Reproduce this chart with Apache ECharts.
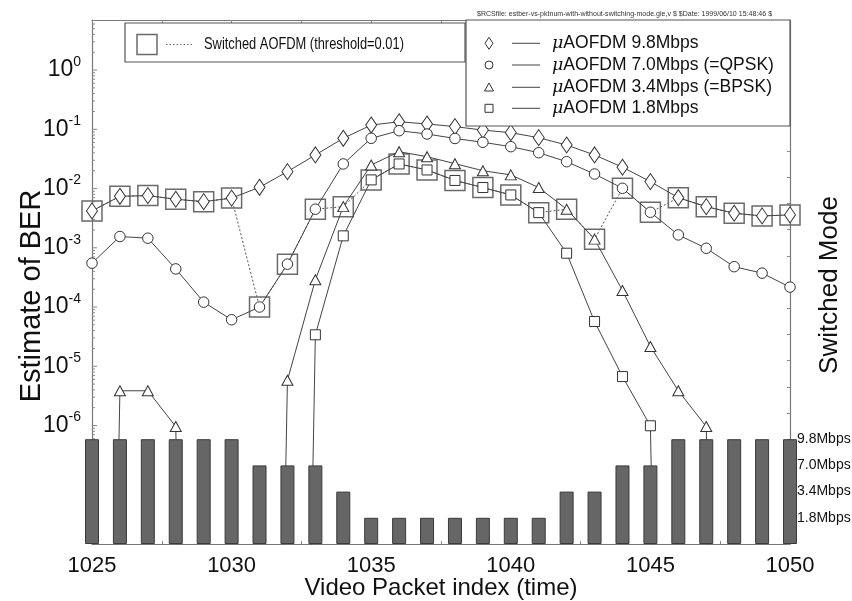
<!DOCTYPE html>
<html>
<head>
<meta charset="utf-8">
<script src="https://cdn.jsdelivr.net/npm/echarts@6/dist/echarts.min.js"></script>
<style>
  html, body { margin: 0; padding: 0; background: #fff; }
  #chart { width: 852px; height: 601px; }
</style>
</head>
<body>
<div id="chart"></div>
<script>
// Video packet index (time axis)
const packets = [1025, 1026, 1027, 1028, 1029, 1030, 1031, 1032, 1033, 1034, 1035, 1036, 1037,
                 1038, 1039, 1040, 1041, 1042, 1043, 1044, 1045, 1046, 1047, 1048, 1049, 1050];

// Estimated BER per fixed-mode modem (0 = no bit errors observed for that packet)
const ber98 = [4.19e-3, 7.4e-3, 7.6e-3, 6.6e-3, 6.0e-3, 6.9e-3, 1.05e-2, 1.93e-2, 3.69e-2, 7.05e-2,
               0.118, 0.134, 0.123, 0.111, 0.097, 0.0877, 0.0722, 0.0543, 0.0369, 0.0229,
               0.0131, 7.0e-3, 4.95e-3, 3.83e-3, 3.45e-3, 3.59e-3];
const ber70 = [5.5e-4, 1.55e-3, 1.45e-3, 4.4e-4, 1.21e-4, 6.1e-5, 1.0e-4, 5.3e-4, 4.48e-3, 0.026,
               0.0705, 0.0947, 0.0833, 0.070, 0.0604, 0.0509, 0.0403, 0.0284, 0.0176, 0.0101,
               3.98e-3, 1.65e-3, 9.8e-4, 4.8e-4, 3.73e-4, 2.17e-4];
const ber34 = [0, 3.86e-6, 3.86e-6, 9.6e-7, 0, 0, 0, 5.8e-6, 2.88e-4, 4.95e-3,
               0.025, 0.0419, 0.0345, 0.0263, 0.020, 0.0170, 0.0104, 4.48e-3, 1.40e-3, 1.90e-4,
               2.16e-5, 3.86e-6, 9.6e-7, 0, 0, 0];
const ber18 = [0, 0, 0, 0, 0, 0, 0, 0, 3.4e-5, 1.59e-3,
               0.014, 0.026, 0.0206, 0.0137, 0.0104, 7.8e-3, 3.92e-3, 8.1e-4, 5.7e-5, 6.7e-6,
               9.9e-7, 0, 0, 0, 0, 0];

// Mode chosen by the switching scheme per packet (1 = 1.8, 2 = 3.4, 3 = 7.0, 4 = 9.8 Mbps)
const switchedMode = [4, 4, 4, 4, 4, 4, 3, 3, 3, 2, 1, 1, 1, 1, 1, 1, 1, 2, 2, 3, 3, 4, 4, 4, 4, 4];

// Labels of the right-hand axis
const modeLabels = ['1.8Mbps', '3.4Mbps', '7.0Mbps', '9.8Mbps'];

// Log axis range
const berMin = 1e-8;
const berMax = 7;
// Zero-error packets sit far below the visible range on the log axis
const zeroFloor = 1e-30;

const FONT = "'Liberation Sans', Arial, Helvetica, sans-serif";
const ink = '#111';
const frame = '#777';

const toLog = v => (v > 0 ? v : zeroFloor);
const pairs = arr => packets.map((p, i) => [p, toLog(arr[i])]);

const berByMode = { 1: ber18, 2: ber34, 3: ber70, 4: ber98 };
const switchedBer = packets.map((p, i) => [p, berByMode[switchedMode[i]][i]]);
const modeBars = packets.map((p, i) => [p, switchedMode[i]]);

// Log-axis tick marks (decades plus 2..9 sub-divisions)
const logTicks = [];
for (let e = -8; e <= 0; e++) {
  for (let m = 1; m <= 9; m++) {
    const v = m * Math.pow(10, e);
    if (v <= berMax) logTicks.push([packets[0], v, m === 1 ? 1 : 0]);
  }
}

const markerStyle = { color: '#fff', borderColor: '#333', borderWidth: 1 };
const lineStyle = { color: '#444', width: 1 };

function berSeries(name, arr, symbol, size) {
  return {
    name, type: 'line', xAxisIndex: 0, yAxisIndex: 0,
    data: pairs(arr), symbol, symbolSize: size, showSymbol: true,
    lineStyle, itemStyle: markerStyle, clip: true, z: 3,
    emphasis: { disabled: true }, silent: true
  };
}

const chart = echarts.init(document.getElementById('chart'), null, { renderer: 'canvas' });

const legendRows = [
  { y: 43.3, text: '9.8Mbps' },
  { y: 65, text: '7.0Mbps (=QPSK)' },
  { y: 87.3, text: '3.4Mbps (=BPSK)' },
  { y: 108.3, text: '1.8Mbps' }
];
const lx = 489;
const legendGlyphs = [
  { type: 'polygon', shape: { points: [[lx, 37.3], [lx + 4, 43.3], [lx, 49.3], [lx - 4, 43.3]] } },
  { type: 'circle', shape: { cx: lx, cy: 65, r: 4 } },
  { type: 'polygon', shape: { points: [[lx, 83], [lx + 4.5, 91], [lx - 4.5, 91]] } },
  { type: 'rect', shape: { x: lx - 4, y: 104.3, width: 8, height: 8 } }
];

const graphics = [
  // header stamp
  { type: 'text', x: 477, y: 14, z: 50, scaleX: 0.94,
    style: { text: '$RCSfile: estber-vs-pktnum-with-without-switching-mode.gle,v $ $Date: 1999/06/10 15:48:46 $',
             fontSize: 7.5, fontFamily: FONT, fill: '#333', verticalAlign: 'middle' } },
  // switched-mode legend
  { type: 'rect', z: 50, shape: { x: 125, y: 23, width: 340, height: 39 },
    style: { fill: '#fff', stroke: '#555', lineWidth: 1.2 } },
  { type: 'rect', z: 51, shape: { x: 137, y: 34.5, width: 20, height: 20 },
    style: { fill: 'none', stroke: '#6a6a6a', lineWidth: 1.5 } },
  { type: 'line', z: 51, shape: { x1: 166, y1: 44.5, x2: 193, y2: 44.5 },
    style: { stroke: '#666', lineWidth: 1, lineDash: [1.5, 2] } },
  { type: 'text', z: 51, x: 204, y: 44.5, scaleX: 0.78,
    style: { text: 'Switched AOFDM (threshold=0.01)', fontSize: 16.5, fontFamily: FONT, fill: ink,
             verticalAlign: 'middle' } },
  // fixed-mode legend
  { type: 'rect', z: 50, shape: { x: 466, y: 20, width: 324, height: 106 },
    style: { fill: '#fff', stroke: '#555', lineWidth: 1.2 } }
];
legendGlyphs.forEach(g => graphics.push(Object.assign({ z: 51, style: { fill: '#fff', stroke: '#333', lineWidth: 1 } }, g)));
legendRows.forEach(r => {
  graphics.push({ type: 'line', z: 51, shape: { x1: 512, y1: r.y, x2: 540, y2: r.y },
                  style: { stroke: '#444', lineWidth: 1 } });
  graphics.push({ type: 'text', z: 51, x: 552, y: r.y,
                  style: { text: '{mu|μ}AOFDM ' + r.text, fontSize: 17.5, fontFamily: FONT, fill: ink,
                           verticalAlign: 'middle',
                           rich: { mu: { fontStyle: 'italic', fontFamily: "'DejaVu Serif', 'Liberation Serif', serif",
                                         fontSize: 17.5, fill: ink } } } });
});

const option = {
  backgroundColor: '#fff',
  animation: false,
  grid: { left: 92, top: 20, width: 698, height: 524, show: false, containLabel: false, outerBoundsMode: 'none' },
  xAxis: [
    {
      type: 'value', min: 1025, max: 1050, interval: 2.5, position: 'bottom',
      axisLine: { show: true, onZero: false, lineStyle: { color: frame, width: 1.2 } },
      axisTick: { show: true, inside: true, length: 3, lineStyle: { color: '#888' } },
      axisLabel: { formatter: v => (v % 5 === 0 ? String(v) : ''), fontSize: 22, color: ink,
                   fontFamily: FONT, margin: 11 },
      splitLine: { show: false },
      name: 'Video Packet index (time)', nameLocation: 'middle', nameGap: 32, nameMoveOverlap: false,
      nameTextStyle: { fontSize: 24, color: ink, fontFamily: FONT }
    },
    {
      type: 'value', min: 1025, max: 1050, interval: 2.5, position: 'top',
      axisLine: { show: true, onZero: false, lineStyle: { color: frame, width: 1.2 } },
      axisTick: { show: true, inside: true, length: 3, lineStyle: { color: '#888' } },
      axisLabel: { show: false }, splitLine: { show: false }
    }
  ],
  yAxis: [
    {
      type: 'log', logBase: 10, min: berMin, max: berMax, splitNumber: 9, position: 'left',
      axisLine: { show: true, onZero: false, lineStyle: { color: frame, width: 1.2 } },
      axisTick: { show: false },
      splitLine: { show: false },
      axisLabel: {
        margin: 11, color: ink, fontFamily: FONT,
        formatter: v => {
          const l = Math.log10(v);
          const e = Math.round(l);
          if (Math.abs(l - e) > 1e-6 || e < -6 || e > 0) return '';
          return '{b|10}{s|' + e + '}';
        },
        rich: {
          b: { fontSize: 23, color: ink, fontFamily: FONT, lineHeight: 30 },
          s: { fontSize: 14, color: ink, fontFamily: FONT, verticalAlign: 'top', lineHeight: 14 }
        }
      },
      name: 'Estimate of BER', nameLocation: 'middle', nameRotate: 90, nameGap: 46, nameMoveOverlap: false,
      nameTextStyle: { fontSize: 29, color: ink, fontFamily: FONT, padding: [0, 28, 0, 0] }
    },
    {
      type: 'value', min: 0, max: 20, interval: 1, position: 'right',
      axisLine: { show: true, onZero: false, lineStyle: { color: frame, width: 1.2 } },
      axisTick: { show: true, inside: true, length: 3, lineStyle: { color: '#888' } },
      splitLine: { show: false },
      axisLabel: {
        margin: 7, fontSize: 14, color: ink, fontFamily: FONT,
        formatter: v => (v >= 1 && v <= modeLabels.length ? modeLabels[v - 1] : '')
      },
      name: 'Switched Mode', nameLocation: 'middle', nameRotate: 90, nameGap: 27, nameMoveOverlap: false,
      nameTextStyle: { fontSize: 26, color: ink, fontFamily: FONT, padding: [0, 6, 0, 0] }
    }
  ],
  graphic: { elements: graphics },
  series: [
    {
      type: 'custom', xAxisIndex: 0, yAxisIndex: 0, silent: true, z: 1, clip: true,
      data: logTicks,
      encode: { x: 0, y: 1 },
      renderItem: (params, api) => {
        const p = api.coord([api.value(0), api.value(1)]);
        const len = api.value(2) === 1 ? 5 : 3;
        return { type: 'line', shape: { x1: p[0], y1: p[1], x2: p[0] + len, y2: p[1] },
                 style: { stroke: '#8a8a8a', lineWidth: 1 } };
      }
    },
    {
      name: 'Switched AOFDM (threshold=0.01)', type: 'line', xAxisIndex: 0, yAxisIndex: 0,
      data: switchedBer, symbol: 'rect', symbolSize: 20,
      itemStyle: { color: 'rgba(0,0,0,0)', borderColor: '#6a6a6a', borderWidth: 1.5 },
      lineStyle: { color: '#555', width: 1, type: [2, 2] },
      z: 2, clip: true, silent: true, emphasis: { disabled: true }
    },
    berSeries('μAOFDM 9.8Mbps', ber98, 'diamond', [11, 16]),
    berSeries('μAOFDM 7.0Mbps (=QPSK)', ber70, 'circle', 10.5),
    berSeries('μAOFDM 3.4Mbps (=BPSK)', ber34, 'triangle', [11, 10]),
    berSeries('μAOFDM 1.8Mbps', ber18, 'rect', 10),
    {
      name: 'Switched Mode', type: 'bar', xAxisIndex: 0, yAxisIndex: 1,
      data: modeBars, barWidth: 14, z: 6, clip: true, silent: true,
      itemStyle: { color: '#666', borderColor: '#3a3a3a', borderWidth: 1 },
      emphasis: { disabled: true }
    }
  ]
};

chart.setOption(option);
</script>
</body>
</html>
